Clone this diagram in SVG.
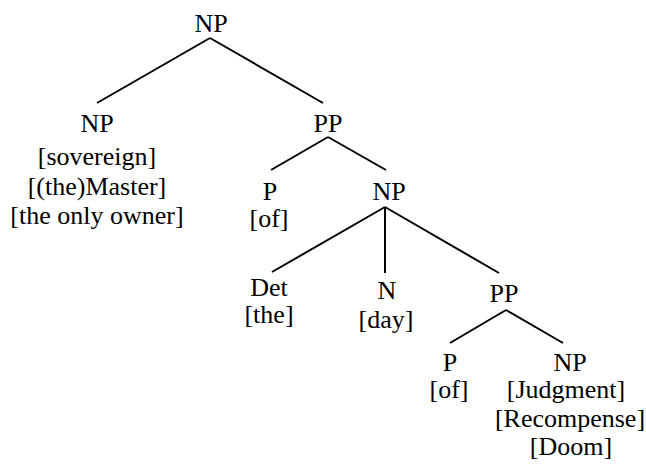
<svg xmlns="http://www.w3.org/2000/svg" width="646" height="464" viewBox="0 0 646 464">
  <style>
    text { font-family: "Liberation Serif", "Times New Roman", serif; font-size: 26px; fill: #000; text-anchor: middle; }
    .edge { stroke: #000; stroke-width: 2; fill: none; stroke-linecap: butt; }
  </style>
  <rect width="646" height="464" fill="#fff"/>

  <!-- tree branches -->
  <g id="connectors">
    <line class="edge" x1="210" y1="38" x2="97" y2="103"/>
    <line class="edge" x1="210" y1="38" x2="323" y2="103"/>
    <line class="edge" x1="328" y1="137" x2="271" y2="170"/>
    <line class="edge" x1="328" y1="137" x2="386" y2="170"/>
    <line class="edge" x1="385" y1="207" x2="272" y2="272"/>
    <line class="edge" x1="385" y1="207" x2="385" y2="273"/>
    <line class="edge" x1="385" y1="207" x2="499" y2="273"/>
    <line class="edge" x1="506" y1="310" x2="450" y2="343"/>
    <line class="edge" x1="506" y1="310" x2="563" y2="343"/>
  </g>

  <g id="np-root"><text x="211" y="32">NP</text></g>

  <g id="np-head">
    <text x="97" y="132">NP</text>
    <text x="97" y="165">[sovereign]</text>
    <text x="97" y="195">[(the)Master]</text>
    <text x="97" y="224">[the only owner]</text>
  </g>

  <g id="pp-1"><text x="328" y="132">PP</text></g>

  <g id="p-1">
    <text x="270" y="200">P</text>
    <text x="269" y="227">[of]</text>
  </g>

  <g id="np-2"><text x="389" y="200">NP</text></g>

  <g id="det">
    <text x="269" y="296">Det</text>
    <text x="269" y="323">[the]</text>
  </g>

  <g id="n">
    <text x="387" y="299">N</text>
    <text x="386" y="328">[day]</text>
  </g>

  <g id="pp-2"><text x="504" y="302">PP</text></g>

  <g id="p-2">
    <text x="450" y="371">P</text>
    <text x="449" y="398">[of]</text>
  </g>

  <g id="np-3">
    <text x="570" y="371">NP</text>
    <text x="566" y="398">[Judgment]</text>
    <text x="570" y="427">[Recompense]</text>
    <text x="571" y="455">[Doom]</text>
  </g>
</svg>
